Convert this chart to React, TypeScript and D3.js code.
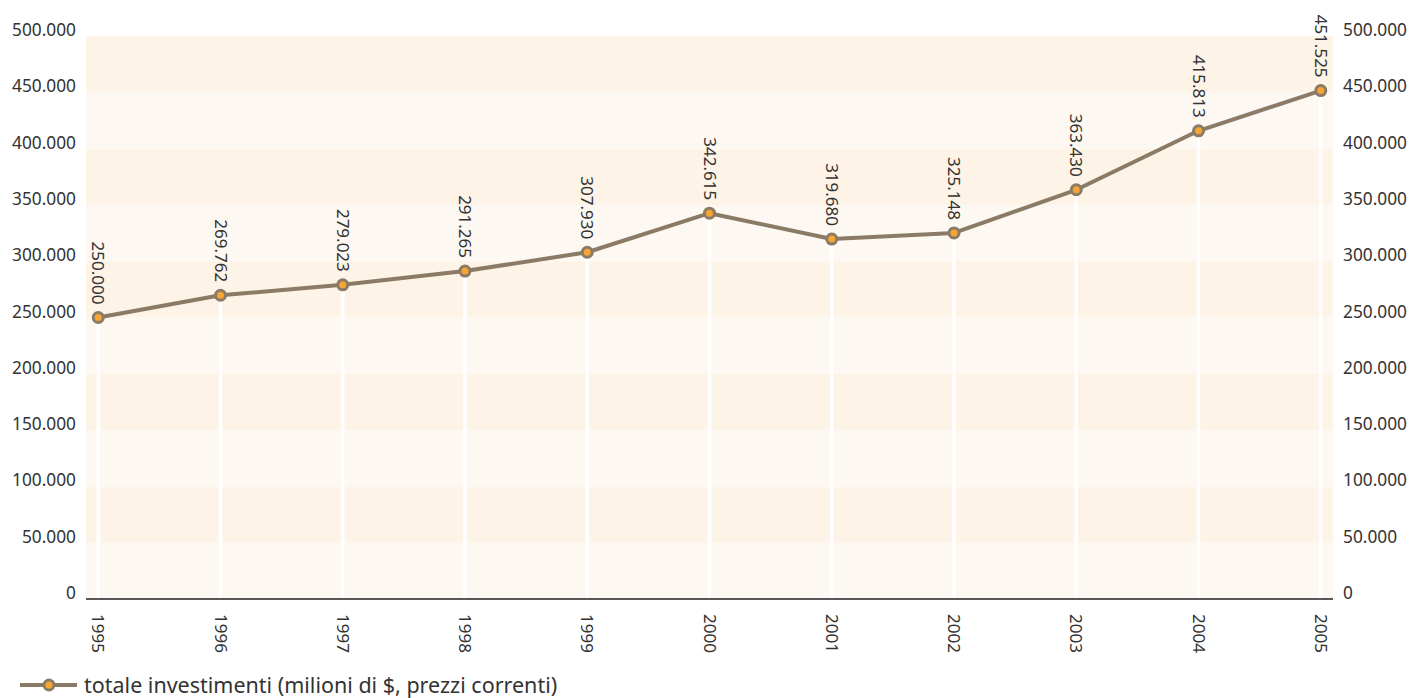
import React from "react";
import * as d3 from "d3";

const years = ["1995","1996","1997","1998","1999","2000","2001","2002","2003","2004","2005"];
const values = [250000, 269762, 279023, 291265, 307930, 342615, 319680, 325148, 363430, 415813, 451525];
const yTicks = [0, 50000, 100000, 150000, 200000, 250000, 300000, 350000, 400000, 450000, 500000];
const seriesName = "totale investimenti (milioni di $, prezzi correnti)";

const fmt = (v: number) => {
  const s = d3.format(",.0f")(v);
  return s.replace(/,/g, ".");
};

export default function App() {
  const W = 1411, H = 698;
  const left = 86, right = 1333, top = 36, bottom = 599;
  const x = d3.scalePoint<string>().domain(years).range([left, right]).padding(0.1);
  const y = d3.scaleLinear().domain([0, 500000]).range([bottom, top]);
  const line = d3.line<number>().x((_, i) => x(years[i])!).y(d => y(d));
  const font = "'Noto Sans', 'Open Sans', sans-serif";
  const lineColor = "#8b7b66";
  const dotFill = "#f7a533";
  const textColor = "#333";

  return (
    <svg width={W} height={H} style={{ position: "absolute", left: 0, top: 0, display: "block" }} fontFamily={font}>
      {yTicks.slice(0, -1).map((t, i) => (
        <rect key={t} x={left} width={right - left} y={y(yTicks[i + 1])} height={y(t) - y(yTicks[i + 1])}
          fill={i % 2 === 0 ? "#fdf8f2" : "#fdf3e6"} />
      ))}
      {values.map((v, i) => (
        <line key={i} x1={x(years[i])} x2={x(years[i])} y1={y(v)} y2={bottom} stroke="#ffffff" strokeWidth={3.5} />
      ))}
      <line x1={left} x2={right} y1={bottom} y2={bottom} stroke="#222" strokeWidth={1.5} />
      {yTicks.map(t => (
        <g key={t}>
          <text x={76} y={y(t)} textAnchor="end" fontSize={17.3} fill={textColor}>{fmt(t)}</text>
          <text x={1343} y={y(t)} textAnchor="start" fontSize={17.3} fill={textColor}>{fmt(t)}</text>
        </g>
      ))}
      {years.map(yr => (
        <text key={yr} transform={`translate(${x(yr)},${614}) rotate(90)`} dy="0.35em" textAnchor="start"
          fontSize={17} fill={textColor}>{yr}</text>
      ))}
      <path d={line(values)!} fill="none" stroke={lineColor} strokeWidth={4} strokeLinejoin="round" />
      {values.map((v, i) => (
        <circle key={i} cx={x(years[i])} cy={y(v)} r={5} fill={dotFill} stroke={lineColor} strokeWidth={3} />
      ))}
      {values.map((v, i) => (
        <text key={i} transform={`translate(${x(years[i])},${y(v) - 13}) rotate(90)`} dy="0.35em" textAnchor="end"
          fontSize={17} fill={textColor}>{fmt(v)}</text>
      ))}
      <line x1={20} x2={77} y1={685} y2={685} stroke={lineColor} strokeWidth={4} />
      <circle cx={49} cy={685} r={5} fill={dotFill} stroke={lineColor} strokeWidth={3} />
      <text x={84} y={693} fontSize={21.5} fill={textColor}>{seriesName}</text>
    </svg>
  );
}
